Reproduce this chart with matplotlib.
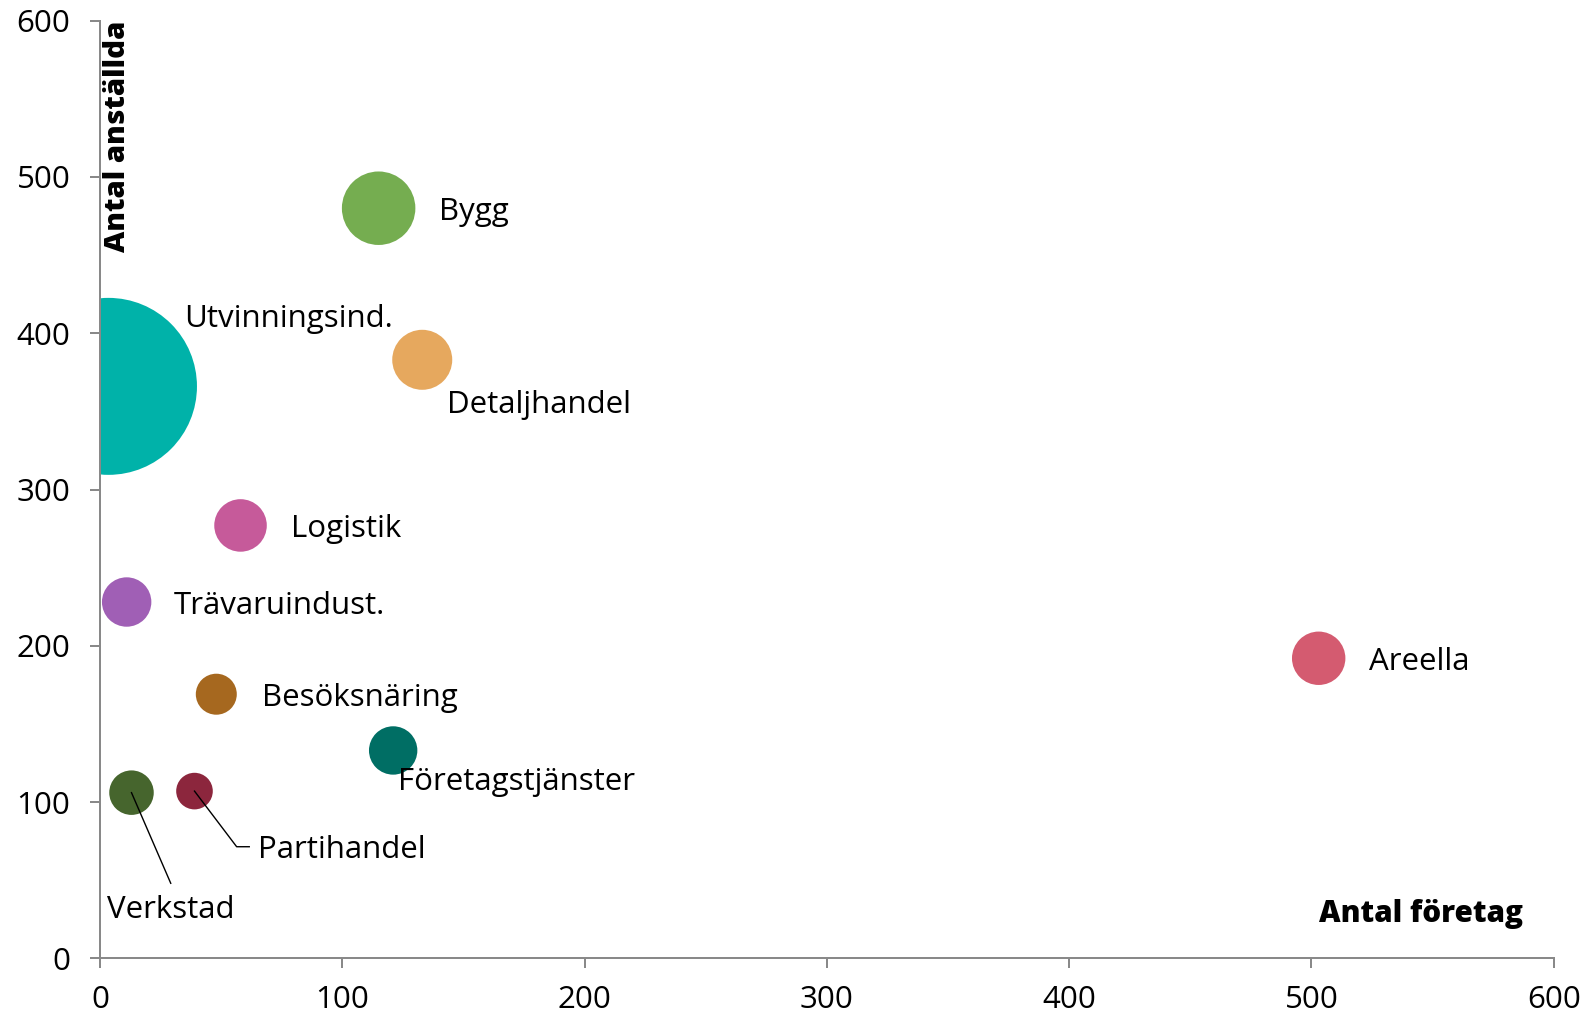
import matplotlib
matplotlib.use("Agg")
import matplotlib.pyplot as plt
import numpy as np

plt.rcParams['font.family'] = ['Open Sans', 'DejaVu Sans']

# Data
categories = ["Utvinningsind.", "Bygg", "Detaljhandel", "Logistik", "Trävaruindust.",
              "Besöksnäring", "Företagstjänster", "Verkstad", "Partihandel", "Areella"]
antal_foretag = [3.5, 115, 133, 58, 11, 48, 121, 13, 39, 503]
antal_anstallda = [366, 480, 383, 277, 228, 169, 133, 106, 107, 192]
bubble_size = [7830, 1350, 900, 690, 610, 420, 585, 495, 335, 713]
colors = ["#00B2A9", "#75AD50", "#E6A85E", "#C65A9A", "#A05FB5",
          "#A6681F", "#006E64", "#46652D", "#8C263D", "#D45B70"]

# Label positions (data coords, left / baseline)
label_x = [34.8, 140.0, 143.3, 78.7, 30.5, 66.7, 123.2, 3.0, 65.3, 523.9]
label_y = [403.7, 472.5, 348.8, 269.4, 220.3, 161.4, 107.7, 25.6, 64.0, 184.5]

x_ticks = [0, 100, 200, 300, 400, 500, 600]
y_ticks = [0, 100, 200, 300, 400, 500, 600]

fig = plt.figure(figsize=(15.86, 10.14), dpi=100)
ax = fig.add_axes([100/1586, 55.7/1014, (1553.7-100)/1586, (958.3-20.7)/1014])

px_to_pt = 72 / fig.dpi
sizes = [(2 * np.sqrt(b) * px_to_pt) ** 2 for b in bubble_size]
ax.scatter(antal_foretag, antal_anstallda, s=sizes, c=colors, linewidths=0, zorder=2)

for name, lx, ly in zip(categories, label_x, label_y):
    ax.text(lx, ly, name, fontsize=22.5, ha='left', va='baseline', color='black', zorder=3)

# leader lines
vi = categories.index("Verkstad")
ax.plot([antal_foretag[vi], 29.2], [antal_anstallda[vi], 48.0], color='black', lw=1.0, zorder=3)
pi = categories.index("Partihandel")
ax.plot([antal_foretag[pi], 56.4, 61.6], [antal_anstallda[pi], 71.4, 71.4], color='black', lw=1.0, zorder=3)

ax.set_xlim(0, 600)
ax.set_ylim(0, 600)
ax.set_xticks(x_ticks)
ax.set_yticks(y_ticks)
ax.tick_params(axis='both', which='major', direction='out', length=7.2, width=1.44,
               color='#898989', labelsize=22.5, labelcolor='black')
ax.tick_params(axis='y', pad=14)
ax.tick_params(axis='x', pad=12)
for s in ['top', 'right']:
    ax.spines[s].set_visible(False)
for s in ['left', 'bottom']:
    ax.spines[s].set_color('#898989')
    ax.spines[s].set_linewidth(1.44)
    ax.spines[s].set_zorder(4)

ax.text(0.002, 1.0, "Antal anställda", transform=ax.transAxes, rotation=90,
        ha='left', va='top', fontsize=21.2, fontweight='heavy', color='black')
ax.text(0.979, 0.039, "Antal företag", transform=ax.transAxes,
        ha='right', va='baseline', fontsize=21.4, fontweight='heavy', color='black')

fig.savefig("out.png", dpi=100)
